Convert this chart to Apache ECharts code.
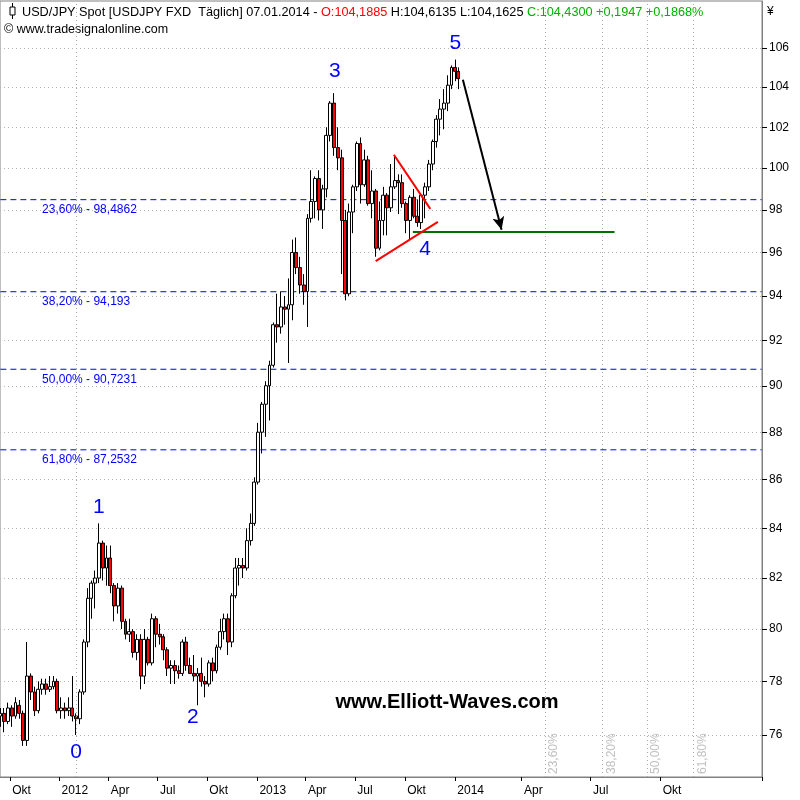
<!DOCTYPE html>
<html><head><meta charset="utf-8">
<script src="https://cdn.jsdelivr.net/npm/echarts@6/dist/echarts.min.js"></script>
<style>html,body{margin:0;padding:0;background:#fff}#c{width:800px;height:800px}</style>
</head><body><div id="c"></div>
<script>
// ---- weekly candles (mid-week date) ----
const weekDates = [
'2011-09-14','2011-09-21','2011-09-28','2011-10-05','2011-10-12','2011-10-19','2011-10-26','2011-11-02','2011-11-09','2011-11-16','2011-11-23','2011-11-30','2011-12-07','2011-12-14','2011-12-21','2011-12-28',
'2012-01-04','2012-01-11','2012-01-18','2012-01-25','2012-02-01','2012-02-08','2012-02-15','2012-02-22','2012-02-29','2012-03-07','2012-03-14','2012-03-21','2012-03-28','2012-04-04','2012-04-11','2012-04-18','2012-04-25','2012-05-02','2012-05-09','2012-05-16','2012-05-23','2012-05-30','2012-06-06','2012-06-13','2012-06-20','2012-06-27','2012-07-04','2012-07-11','2012-07-18','2012-07-25','2012-08-01','2012-08-08','2012-08-15','2012-08-22','2012-08-29','2012-09-05','2012-09-12','2012-09-19','2012-09-26','2012-10-03','2012-10-10','2012-10-17','2012-10-24','2012-10-31','2012-11-07','2012-11-14','2012-11-21','2012-11-28','2012-12-05','2012-12-12','2012-12-19','2012-12-26',
'2013-01-02','2013-01-09','2013-01-16','2013-01-23','2013-01-30','2013-02-06','2013-02-13','2013-02-20','2013-02-27','2013-03-06','2013-03-13','2013-03-20','2013-03-27','2013-04-03','2013-04-10','2013-04-17','2013-04-24','2013-05-01','2013-05-08','2013-05-15','2013-05-22','2013-05-29','2013-06-05','2013-06-12','2013-06-19','2013-06-26','2013-07-03','2013-07-10','2013-07-17','2013-07-24','2013-07-31','2013-08-07','2013-08-14','2013-08-21','2013-08-28','2013-09-04','2013-09-11','2013-09-18','2013-09-25','2013-10-02','2013-10-09','2013-10-16','2013-10-23','2013-10-30','2013-11-06','2013-11-13','2013-11-20','2013-11-27','2013-12-04','2013-12-11','2013-12-18','2013-12-25',
'2014-01-01','2014-01-07'];
const opens = [
76.7,76.8,76.5,77.0,76.7,77.1,76.8,75.8,78.2,77.6,76.9,77.7,77.9,77.7,77.8,78.0,
76.9,77.0,76.9,77.0,76.7,76.6,77.6,79.5,81.2,81.8,82.0,83.4,82.4,82.8,81.7,80.9,81.6,80.3,79.8,79.9,79.1,79.6,78.2,79.6,78.7,80.4,79.8,79.7,79.2,78.5,78.6,78.4,78.3,79.5,78.6,78.3,78.2,78.3,78.0,77.9,78.7,78.4,79.3,79.9,80.4,79.5,81.3,82.4,82.5,82.4,83.5,84.2,
85.9,88.0,89.2,90.0,90.9,92.7,92.6,93.5,93.4,93.6,96.0,95.3,94.5,94.2,97.6,98.4,99.5,98.0,99.0,101.6,103.2,101.0,100.5,97.5,94.1,97.9,99.1,101.2,99.2,100.4,98.3,98.9,96.2,97.5,98.7,98.1,99.1,99.4,99.3,98.3,97.5,98.6,97.7,97.4,98.7,99.1,100.2,101.3,102.4,102.9,103.2,104.1,
105.0,104.8];
const highs = [
77.0,77.0,77.2,77.1,77.4,77.3,76.9,79.5,78.3,77.8,78.0,78.1,78.1,78.2,78.2,78.1,
77.4,77.2,77.4,78.2,76.8,77.7,79.6,81.6,81.9,82.3,84.2,83.5,83.3,83.3,81.8,81.8,81.7,80.4,80.4,80.0,79.8,79.8,80.0,79.7,80.6,80.5,80.2,79.8,79.3,78.8,78.8,78.6,79.6,79.7,78.9,79.0,78.5,78.9,78.2,78.8,78.9,79.4,80.4,80.6,80.6,81.4,82.8,82.8,82.8,84.0,84.6,86.1,
88.4,89.3,90.2,91.1,92.8,94.1,94.2,94.0,94.8,96.6,96.7,95.8,95.0,97.8,99.9,99.6,99.9,99.2,102.0,103.3,103.7,102.0,100.9,98.0,98.3,99.2,101.3,101.5,100.9,100.6,99.9,99.0,98.4,99.1,98.8,100.2,100.6,99.7,99.7,98.4,98.7,99.0,98.5,98.8,99.3,100.4,101.4,102.6,103.4,103.9,104.6,105.1,
105.4,105.0];
const lows = [
76.3,76.1,76.4,76.3,76.6,76.6,75.6,75.6,77.3,76.7,76.8,77.5,77.5,77.6,77.7,76.8,
76.6,76.6,76.7,76.5,76.0,76.4,77.5,79.3,80.4,80.8,81.8,81.9,81.7,81.4,80.3,80.6,80.0,79.6,79.5,78.9,78.8,77.7,77.9,78.6,78.6,79.3,79.4,78.8,78.2,77.9,77.9,78.1,78.2,78.4,78.3,78.0,77.1,77.8,77.4,77.8,78.0,78.3,79.2,79.6,79.0,79.3,81.2,81.7,82.0,82.3,83.3,84.1,
85.8,87.1,87.8,88.5,90.8,91.9,92.3,92.7,91.0,92.9,95.0,94.1,93.6,92.6,97.4,97.6,97.5,97.1,98.6,101.3,100.6,99.9,95.0,93.8,94.0,96.9,98.9,98.3,99.1,98.2,97.6,95.8,96.1,96.8,96.8,97.9,99.0,97.8,98.1,96.9,96.6,97.6,97.2,97.1,97.6,98.9,99.9,101.0,101.6,101.9,102.8,103.9,
104.3,103.9];
const closes = [
76.8,76.5,77.0,76.7,77.2,76.8,75.8,78.2,77.6,76.9,77.7,77.9,77.7,77.8,78.0,76.9,
77.0,76.9,77.0,76.7,76.6,77.6,79.5,81.2,81.8,82.0,83.4,82.4,82.8,81.7,80.9,81.6,80.3,79.8,79.9,79.1,79.6,78.2,79.6,78.7,80.4,79.8,79.7,79.2,78.5,78.6,78.4,78.3,79.5,78.6,78.3,78.2,78.3,78.0,77.9,78.7,78.4,79.3,79.9,80.4,79.5,81.3,82.4,82.5,82.4,83.5,84.2,85.9,
88.0,89.2,90.0,90.9,92.7,92.6,93.5,93.4,93.6,96.0,95.3,94.5,94.2,97.6,98.4,99.5,98.0,99.0,101.6,103.2,101.0,100.5,97.5,94.1,97.9,99.1,101.2,99.2,100.4,98.3,98.9,96.2,97.5,98.7,98.1,99.1,99.4,99.3,98.3,97.5,98.6,97.7,97.4,98.7,99.1,100.2,101.3,102.4,102.9,103.2,104.1,105.0,
104.8,104.43];

// ---- axes ----
const yTicks = [76,78,80,82,84,86,88,90,92,94,96,98,100,102,104,106];
const xTickDates = ['2011-10-03','2012-01-02','2012-04-02','2012-07-02','2012-10-01','2013-01-01','2013-04-01','2013-07-01','2013-10-01','2014-01-01','2014-04-01','2014-07-01','2014-10-01'];
const xTickLabels = ['Okt','2012','Apr','Jul','Okt','2013','Apr','Jul','Okt','2014','Apr','Jul','Okt'];

// ---- annotations ----
const fibLevels = [98.4862, 94.193, 90.7231, 87.2532];
const fibLabels = ['23,60% - 98,4862','38,20% - 94,193','50,00% - 90,7231','61,80% - 87,2532'];
const fibTimeDates = ['2014-05-01','2014-07-16','2014-09-13','2014-11-13'];
const fibTimeLabels = ['23,60%','38,20%','50,00%','61,80%'];
const waveLabels = ['0','1','2','3','4','5'];
const waveDates = ['2012-02-01','2012-03-14','2012-09-04','2013-05-23','2013-11-06','2014-01-01'];
const wavePrices = [75.38, 84.87, 76.67, 104.83, 96.17, 106.26];

// category axis: trading days up to last bar, calendar days afterwards
function fmt(d){return d.toISOString().slice(0,10);}
const cats = [];
(function(){
  let t = Date.UTC(2011,8,14);
  const lastBar = Date.UTC(2014,0,7), end = Date.UTC(2015,1,11);
  while (t <= end) {
    const wd = new Date(t).getUTCDay();
    if (t > lastBar || (wd !== 0 && wd !== 6)) cats.push(fmt(new Date(t)));
    t += 86400000;
  }
})();
const catIndex = {}; cats.forEach((c,i)=>catIndex[c]=i);
const tickSet = new Set(xTickDates);
const labelMap = {}; xTickDates.forEach((d,i)=>labelMap[d]=xTickLabels[i]);

const candleData = weekDates.map((d,i)=>[catIndex[d], opens[i], closes[i], lows[i], highs[i]]);

const FONT = 'Liberation Sans, Arial, sans-serif';

const markLines = [];
markLines.push({xAxis: '2012-02-01', lineStyle:{color:'#a8a8a8', type:[1,3], width:1}, label:{show:false}});
fibTimeDates.forEach((d,i)=>markLines.push({xAxis: d, lineStyle:{color:'#a8a8a8', type:[1,3], width:1},
  label:{show:true, formatter: fibTimeLabels[i], position:'insideStartBottom', color:'#c0c0c0', fontSize:12, fontFamily:FONT, distance:3}}));
markLines.push([{coord:['2013-10-15', 96.97], lineStyle:{color:'#007000', width:2, type:'solid'}},{coord:['2014-08-01', 96.97]}]);
markLines.push([{coord:['2013-09-10', 100.65], lineStyle:{color:'#ff0000', width:2, type:'solid'}},{coord:['2013-11-15', 98.05]}]);
markLines.push([{coord:['2013-08-07', 95.6], lineStyle:{color:'#ff0000', width:2, type:'solid'}},{coord:['2013-11-29', 97.43]}]);
markLines.push([{coord:['2014-01-13', 104.37], lineStyle:{color:'#000', width:2, type:'solid'}},{coord:['2014-03-05', 97.06], symbol:'arrow', symbolSize:[9,13]}]);

const markPoints = [];
fibLevels.forEach((v,i)=>markPoints.push({coord:['2011-11-30', v], symbol:'circle', symbolSize:0,
  label:{show:true, formatter: fibLabels[i], position:'right', distance:0, offset:[0,10], color:'#0000ff', fontSize:12, fontFamily:FONT}}));
waveLabels.forEach((t,i)=>markPoints.push({coord:[waveDates[i], wavePrices[i]], symbol:'circle', symbolSize:0,
  label:{show:true, formatter: t, position:'inside', color:'#0000ff', fontSize:21, fontFamily:FONT}}));

// fib retracement levels as flat dashed line series spanning the whole axis
const fibSeries = fibLevels.map((v,i)=>({
  type:'line', name:'fib'+i, silent:true, symbol:'none', z:2, animation:false,
  data:[[0, v],[cats.length-1, v]],
  lineStyle:{color:'#0000ff', type:[6,4], width:1}, itemStyle:{color:'#0000ff'}
}));

const chart = echarts.init(document.getElementById('c'), null, {renderer:'canvas'});
chart.setOption({
  animation:false,
  backgroundColor:'#fff',
  grid:{left:0, right:38, top:1, bottom:23, show:true, borderColor:'#808080', borderWidth:1, backgroundColor:'transparent'},
  xAxis:{type:'category', data:cats, boundaryGap:true,
    axisLine:{show:true, lineStyle:{color:'#808080'}},
    axisTick:{show:true, interval:(i,v)=>tickSet.has(v), length:4, lineStyle:{color:'#000'}},
    axisLabel:{show:true, interval:(i,v)=>tickSet.has(v), formatter:v=>labelMap[v]||'', align:'left', margin:8, color:'#000', fontSize:12, fontFamily:FONT, padding:[0,0,0,2]},
    splitLine:{show:false}},
  yAxis:{type:'log', logBase:10, min:74.47, max:108.43, position:'right',
    axisLine:{show:true, lineStyle:{color:'#808080'}},
    axisTick:{show:true, customValues:yTicks, length:5, lineStyle:{color:'#000'}},
    axisLabel:{show:true, customValues:yTicks, formatter:v=>String(Math.round(v)), margin:7, color:'#000', fontSize:12, fontFamily:FONT},
    splitLine:{show:true, lineStyle:{color:'#b4b4b4', type:[1,3], width:1}}},
  series:[{
    type:'candlestick', name:'USDJPY', data:candleData, barWidth:3.4, z:3,
    encode:{x:0, y:[1,2,3,4]},
    itemStyle:{color:'#ffffff', color0:'#ff0000', borderColor:'#000000', borderColor0:'#000000', borderWidth:1}
  }].concat(fibSeries).concat([{
    type:'line', name:'annotations', data:[], color:'#0000ff', z:4, silent:true, symbol:'none',
    markLine:{silent:true, symbol:'none', animation:false, data:markLines},
    markPoint:{silent:true, animation:false, data:markPoints}
  }]),
  graphic:[
    {type:'rect', shape:{x:10, y:7, width:5, height:8}, style:{fill:'#fff', stroke:'#000', lineWidth:1}},
    {type:'line', shape:{x1:12.5, y1:3, x2:12.5, y2:7}, style:{stroke:'#000', lineWidth:1}},
    {type:'line', shape:{x1:12.5, y1:15, x2:12.5, y2:19}, style:{stroke:'#000', lineWidth:1}},
    {type:'text', x:22, y:12, style:{
      text:'{b|USD/JPY Spot [USDJPY FXD  Täglich] 07.01.2014 - }{r|O:104,1885 }{b|H:104,6135 L:104,1625 }{g|C:104,4300 +0,1947 +0,1868%}',
      verticalAlign:'middle', font:'12.7px '+FONT,
      rich:{b:{fill:'#000', fontSize:12.7, fontFamily:FONT}, r:{fill:'#ff0000', fontSize:12.7, fontFamily:FONT}, g:{fill:'#00b000', fontSize:12.7, fontFamily:FONT}}}},
    {type:'text', x:4, y:30, style:{text:'© www.tradesignalonline.com', fill:'#000', font:'12.5px '+FONT, verticalAlign:'middle'}},
    {type:'text', x:767, y:12, style:{text:'¥', fill:'#000', font:'12px '+FONT, verticalAlign:'middle'}},
    {type:'text', x:447, y:702, style:{text:'www.Elliott-Waves.com', fill:'#000', font:'bold 20px '+FONT, align:'center', verticalAlign:'middle'}}
  ]
});
</script></body></html>
